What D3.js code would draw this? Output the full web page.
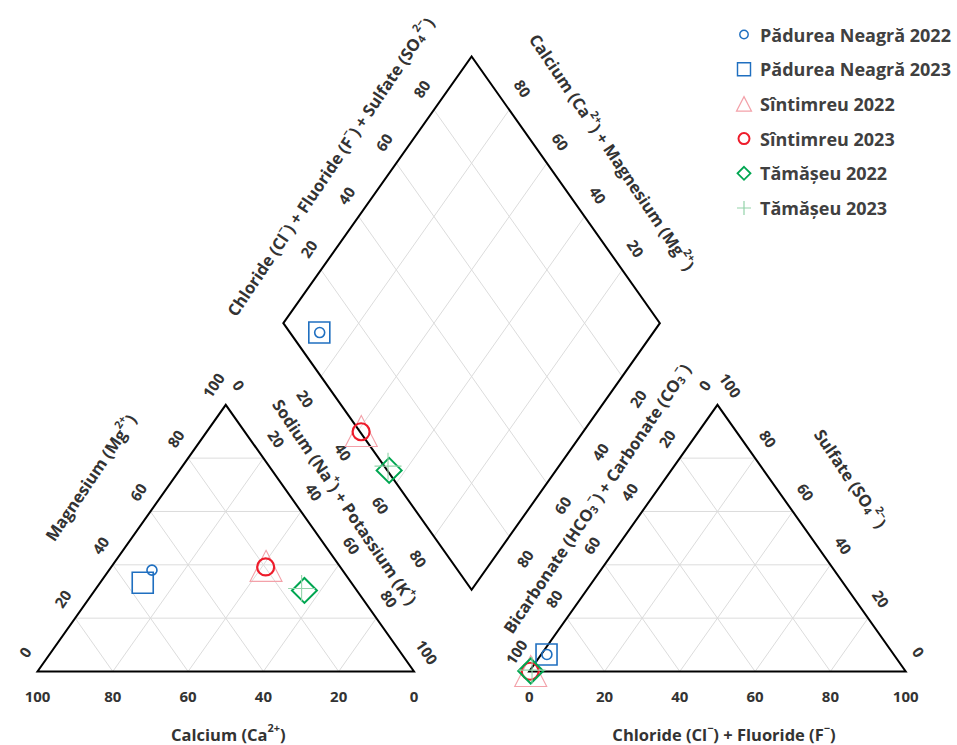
<!DOCTYPE html>
<html>
<head>
<meta charset="utf-8">
<script src="https://cdn.jsdelivr.net/npm/d3@7"></script>
<style>
  body { margin: 0; background: #ffffff; }
  svg text { font-family: "Open Sans", "Noto Sans", "DejaVu Sans", sans-serif; font-weight: 700; }
</style>
</head>
<body>
<svg id="chart" width="957" height="745"></svg>
<script>
// ---- Sample names (legend order) ----
const samples = [
  "Pădurea Neagră 2022",
  "Pădurea Neagră 2023",
  "Sîntimreu 2022",
  "Sîntimreu 2023",
  "Tămășeu 2022",
  "Tămășeu 2023"
];

// ---- Cations, % of meq ----
const calcium         = [50.6, 55.4, 19.5, 19.8, 13.9, 14.3];
const magnesium       = [38.0, 33.3, 39.6, 39.2, 30.4, 31.1];
const sodiumPotassium = [11.4, 11.3, 40.9, 41.0, 55.7, 54.6];

// ---- Anions, % of meq ----
const bicarbonate      = [92.1, 92.2, 99.5, 99.7, 99.5, 99.0];
const chlorideFluoride = [1.5, 1.4, 0.3, 0.2, 0.3, 0.5];
const sulfate          = [6.4, 6.4, 0.2, 0.1, 0.2, 0.5];

// ---- Axis ticks ----
const tickValues = [0, 20, 40, 60, 80, 100];
const gridValues = [20, 40, 60, 80];

// ---- Marker styles per sample ----
const markerStyles = [
  { shape: "circle",   size: 5,  stroke: "#1f6fc0", width: 1.6 },
  { shape: "square",   size: 21, stroke: "#1f6fc0", width: 1.6 },
  { shape: "triangle", size: 32, stroke: "#f3a1a9", width: 1.1 },
  { shape: "circle",   size: 8.5, stroke: "#ee1c2b", width: 2.2 },
  { shape: "diamond",  size: 25, stroke: "#00a651", width: 2.0 },
  { shape: "plus",     size: 27, stroke: "#93d3aa", width: 1.1 }
];
const legendStyles = [
  { shape: "circle",   size: 4.2 },
  { shape: "square",   size: 13 },
  { shape: "triangle", size: 15 },
  { shape: "circle",   size: 5.5 },
  { shape: "diamond",  size: 13 },
  { shape: "plus",     size: 14 }
];

const svg = d3.select("#chart");

// Layout: unit triangle side along x, unit triangle height along y.
const GAP = 0.306; // gap between the two triangles, in triangle sides
const x = d3.scaleLinear().domain([0, 1]).range([37.5, 414]);
const y = d3.scaleLinear().domain([0, 1]).range([671.5, 404.8]);
const P = p => [x(p[0]), y(p[1])];

// Cation triangle: Ca at lower-left, Na+K at lower-right, Mg at apex
const cationPos = (ca, mg, na) => [na / 100 + mg / 200, mg / 100];
// Anion triangle: HCO3 at lower-left, Cl+F at lower-right, SO4 at apex
const anionPos = (hco3, cl, so4) => [1 + GAP + cl / 100 + so4 / 200, so4 / 100];
// Diamond: projected from Na+K (cations) and Cl+F+SO4 (anions)
const diamondPos = (na, clso4) => {
  const c = na / 100, a = clso4 / 100;
  return [1 + GAP / 2 - 0.5 * (1 - c) + 0.5 * a, GAP + (1 - c) + a];
};

const line = d3.line().x(d => x(d[0])).y(d => y(d[1]));

// ---- Grid lines ----
const grid = svg.append("g").attr("fill", "none").attr("stroke", "#dcdcdc").attr("stroke-width", 1);
const gridSegs = [];
gridValues.forEach(v => {
  const t = v / 100;
  [0, 1 + GAP].forEach(o => {
    gridSegs.push([[o + t / 2, t], [o + 1 - t / 2, t]]);
    gridSegs.push([[o + t, 0], [o + t + (1 - t) / 2, 1 - t]]);
    gridSegs.push([[o + 1 - t, 0], [o + (1 - t) / 2, 1 - t]]);
  });
  gridSegs.push([diamondPos(0, v), diamondPos(100, v)]);
  gridSegs.push([diamondPos(v, 0), diamondPos(v, 100)]);
});
grid.selectAll("path").data(gridSegs).join("path").attr("d", line);

// ---- Outlines ----
const outline = svg.append("g").attr("fill", "none").attr("stroke", "#000").attr("stroke-width", 2).attr("stroke-linejoin", "miter");
const shapes = [
  [[0, 0], [1, 0], [0.5, 1]],
  [[1 + GAP, 0], [2 + GAP, 0], [1.5 + GAP, 1]],
  [diamondPos(0, 0), diamondPos(0, 100), diamondPos(100, 100), diamondPos(100, 0)]
];
outline.selectAll("path").data(shapes).join("path").attr("d", d => line(d) + "Z");

// ---- Labels ----
const TICK_FS = 15, TITLE_FS = 16.5, ROT = 56;
const tickG = svg.append("g").attr("fill", "#333").attr("font-size", TICK_FS)
  .attr("text-anchor", "middle").attr("dominant-baseline", "central");

function tick(p, dx, dy, rot, txt) {
  const [px, py] = P(p);
  tickG.append("text")
    .attr("transform", `translate(${px + dx},${py + dy}) rotate(${rot})`)
    .text(txt);
}

tickValues.forEach(v => {
  const t = v / 100;
  // cation triangle
  tick([1 - t, 0], 0, 24, 0, v);                       // Calcium
  tick([t / 2, t], -12.5, -19.5, -ROT, v);               // Magnesium
  tick([t + (1 - t) / 2, 1 - t], 13, -19.5, ROT, v);     // Sodium + Potassium
  // anion triangle
  tick([1 + GAP + t, 0], 0, 24, 0, v);                   // Chloride + Fluoride
  tick([1 + GAP + (1 - t) / 2, 1 - t], -13, -19.5, -ROT, v); // Bicarbonate
  tick([1 + GAP + 1 - t / 2, t], 13, -19.5, ROT, v);     // Sulfate
});
gridValues.forEach(v => {
  tick(diamondPos(0, v), -12.5, -21, -ROT, v);           // Cl+F+SO4
  tick(diamondPos(100 - v, 100), 13.5, -21.5, ROT, v);   // Ca+Mg
  tick(diamondPos(v, 0), -15.5, 22, ROT, v);             // Na+K
  tick(diamondPos(100, 100 - v), 15.5, 22, -ROT, v);     // HCO3+CO3
});

// Titles with sub/superscripts
const titleG = svg.append("g").attr("fill", "#333").attr("font-size", TITLE_FS)
  .attr("text-anchor", "middle").attr("dominant-baseline", "central");

function title(p, dx, dy, rot, parts) {
  const [px, py] = P(p);
  const t = titleG.append("text")
    .attr("transform", `translate(${px + dx},${py + dy}) rotate(${rot})`);
  let shift = 0;
  parts.forEach(([s, kind]) => {
    const target = kind === "sup" ? -0.42 * TITLE_FS : kind === "sub" ? 0.22 * TITLE_FS : 0;
    t.append("tspan")
      .attr("dy", target - shift)
      .attr("font-size", kind ? TITLE_FS * 0.66 : TITLE_FS)
      .text(s);
    shift = target;
  });
}

title([0.5, 0], 2.5, 62, 0, [["Calcium (Ca"], ["2+", "sup"], [")"]]);
title([1.5 + GAP, 0], 6.5, 62, 0, [["Chloride (Cl"], ["\u2212", "sup"], [") + Fluoride (F"], ["\u2212", "sup"], [")"]]);
title([0.25, 0.5], -41.5, -61, -ROT, [["Magnesium (Mg"], ["2+", "sup"], [")"]]);
title([0.75, 0.5], 25.5, -36.5, ROT, [["Sodium (Na"], ["+", "sup"], [") + Potassium (K"], ["+", "sup"], [")"]]);
title([1.25 + GAP, 0.5], -27, -40, -ROT, [["Bicarbonate (HCO"], ["3", "sub"], ["\u2212", "sup"], [") + Carbonate (CO"], ["3", "sub"], ["\u2212", "sup"], [")"]]);
title([1.75 + GAP, 0.5], 39.5, -60, ROT, [["Sulfate (SO"], ["4", "sub"], ["2\u2212", "sup"], [")"]]);
title(diamondPos(0, 50), -47.5, -23.5, -ROT, [["Chloride (Cl"], ["\u2212", "sup"], [") + Fluoride (F"], ["\u2212", "sup"], [") + Sulfate (SO"], ["4", "sub"], ["2\u2212", "sup"], [")"]]);
title(diamondPos(50, 100), 47, -38, ROT, [["Calcium (Ca"], ["2+", "sup"], [") + Magnesium (Mg"], ["2+", "sup"], [")"]]);

// ---- Markers ----
function markerPath(shape, s) {
  const p = d3.path();
  if (shape === "circle") { p.moveTo(s, 0); p.arc(0, 0, s, 0, 2 * Math.PI); }
  else if (shape === "square") { p.rect(-s / 2, -s / 2, s, s); }
  else if (shape === "triangle") { const h = s * 0.97; p.moveTo(0, -h / 2); p.lineTo(s / 2, h / 2); p.lineTo(-s / 2, h / 2); p.closePath(); }
  else if (shape === "diamond") { p.moveTo(0, -s / 2); p.lineTo(s / 2, 0); p.lineTo(0, s / 2); p.lineTo(-s / 2, 0); p.closePath(); }
  else if (shape === "plus") { p.moveTo(-s / 2, 0); p.lineTo(s / 2, 0); p.moveTo(0, -s / 2); p.lineTo(0, s / 2); }
  return p.toString();
}

const points = samples.map((name, i) => ({
  i,
  cat: cationPos(calcium[i], magnesium[i], sodiumPotassium[i]),
  an: anionPos(bicarbonate[i], chlorideFluoride[i], sulfate[i]),
  dia: diamondPos(sodiumPotassium[i], chlorideFluoride[i] + sulfate[i])
}));

const markG = svg.append("g").attr("fill", "none");
points.forEach(d => {
  const st = markerStyles[d.i];
  [d.cat, d.an, d.dia].forEach(pos => {
    const [px, py] = P(pos);
    markG.append("path")
      .attr("transform", `translate(${px},${py})`)
      .attr("d", markerPath(st.shape, st.size))
      .attr("stroke", st.stroke)
      .attr("stroke-width", st.width);
  });
});

// ---- Legend ----
const legend = svg.append("g").attr("transform", "translate(744,34.5)");
const rowStep = 34.7;
samples.forEach((name, i) => {
  const row = legend.append("g").attr("transform", `translate(0,${i * rowStep})`);
  row.append("path")
    .attr("d", markerPath(legendStyles[i].shape, legendStyles[i].size))
    .attr("fill", "none")
    .attr("stroke", markerStyles[i].stroke)
    .attr("stroke-width", Math.max(1.2, markerStyles[i].width * 0.9));
  row.append("text")
    .attr("x", 16).attr("y", 0)
    .attr("dominant-baseline", "central")
    .attr("font-size", 18)
    .attr("fill", "#404040")
    .text(name);
});
</script>
</body>
</html>
